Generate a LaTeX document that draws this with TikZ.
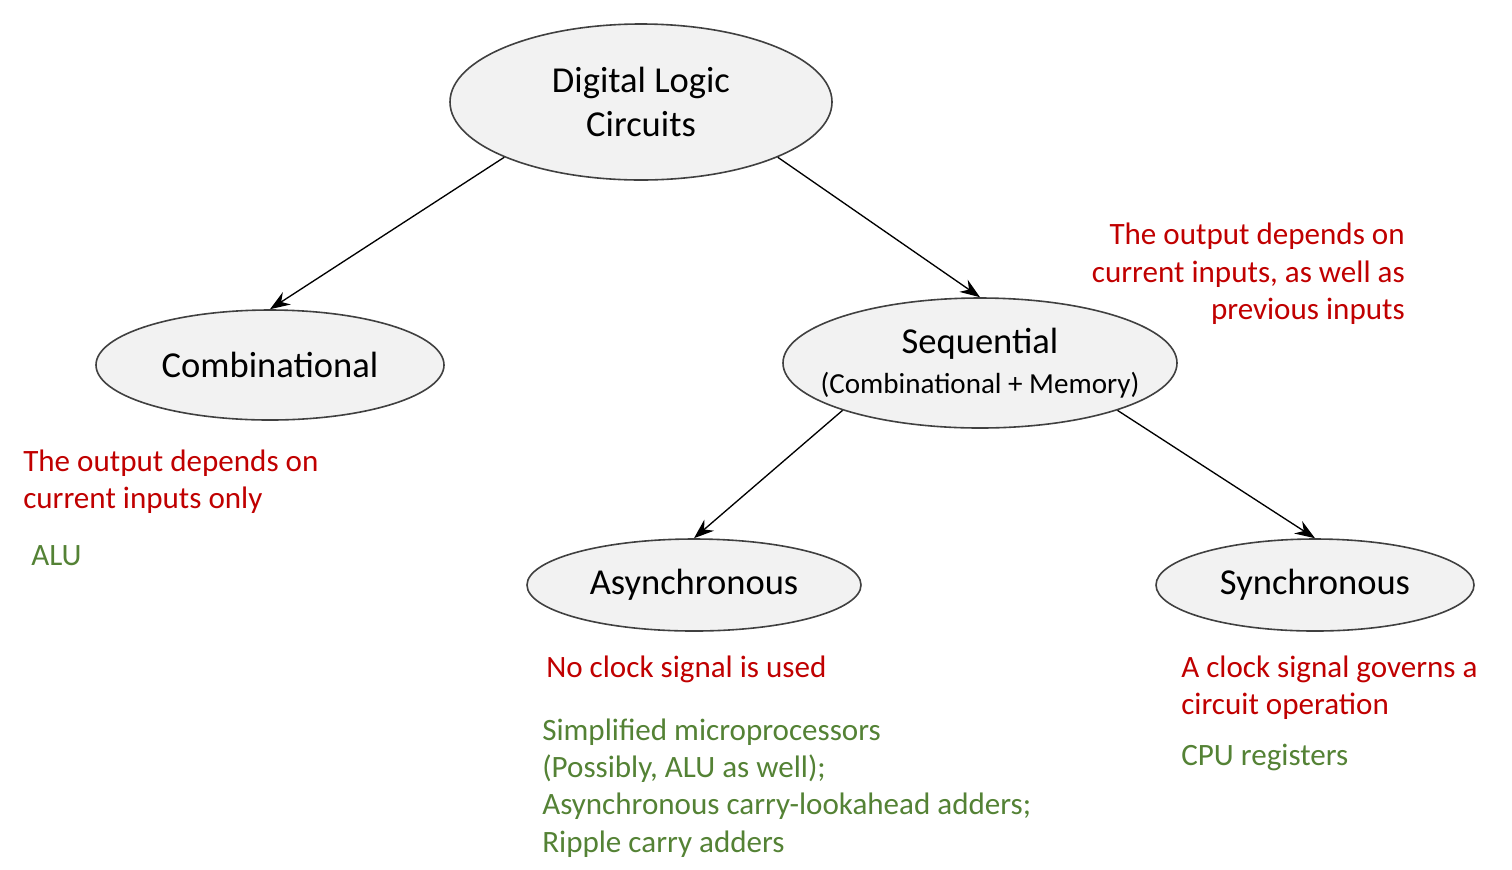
\documentclass[tikz,border=0pt]{standalone}
\usepackage{fontspec}
\setmainfont{Carlito}
\usetikzlibrary{shapes.geometric,arrows.meta}
\definecolor{darkred}{HTML}{C00000}
\definecolor{leafgreen}{HTML}{548235}
\definecolor{ovalfill}{HTML}{F2F2F2}
\definecolor{ovaldraw}{HTML}{404040}
\tikzset{
  oval/.style={ellipse,draw=ovaldraw,line width=1.2pt,fill=ovalfill,inner sep=0pt,align=center,font=\fontsize{27.4}{33}\selectfont},
  why/.style={text=darkred,inner sep=0pt,font=\fontsize{23.3}{28}\selectfont},
  usage/.style={text=leafgreen,inner sep=0pt,font=\fontsize{23.3}{28}\selectfont,align=left,anchor=west},
}
\begin{document}
\begin{tikzpicture}[x=0.75pt,y=-0.75pt,>={Stealth[length=15pt,width=11pt,inset=5pt]}]
\useasboundingbox (0,0) rectangle (1512,869);
% the tree
\node[oval,minimum width=286.5pt,minimum height=117pt] (dlc) at (641,102) {Digital Logic\\Circuits};
\node[oval,minimum width=261pt,minimum height=82.5pt] (comb) at (270,365) {Combinational};
\node[oval,inner xsep=-16pt,minimum width=295.5pt,minimum height=97.5pt] (seq) at (980,363) {Sequential\\[-3pt]{\fontsize{21.8}{26}\selectfont (Combinational + Memory)}};
\node[oval,minimum width=250.5pt,minimum height=69pt] (async) at (694,585) {Asynchronous};
\node[oval,minimum width=238.5pt,minimum height=69pt] (sync) at (1315,585) {Synchronous};
\draw[->,line width=1pt] (dlc.202)--(comb.north);
\draw[->,line width=1pt] (dlc.338)--(seq.north);
\draw[->,line width=1pt] (seq.199)--(async.north);
\draw[->,line width=1pt] (seq.341)--(sync.north);
% notes
\node[why,align=left,anchor=west] (combwhy) at (23,482) {The output depends on\\current inputs only};
\node[usage] (combuse) at (31,556) {ALU};
\node[why,align=right,anchor=east] (seqwhy) at (1405,274) {The output depends on\\current inputs, as well as\\previous inputs};
\node[why,anchor=west] (asyncwhy) at (546,669) {No clock signal is used};
\node[usage] (asyncuse) at (542,788) {Simplified microprocessors\\(Possibly, ALU as well);\\Asynchronous carry-lookahead adders;\\Ripple carry adders};
\node[why,align=left,anchor=west] (syncwhy) at (1181,688) {A clock signal governs a\\circuit operation};
\node[usage] (syncuse) at (1181,757) {CPU registers};
\end{tikzpicture}
\end{document}
